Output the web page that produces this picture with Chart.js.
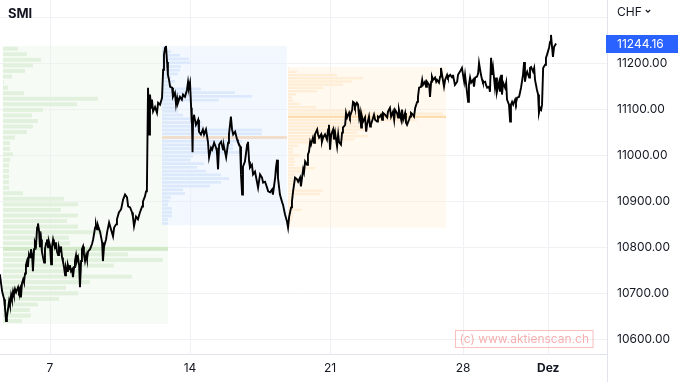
<!DOCTYPE html>
<html>
<head>
<meta charset="utf-8">
<script src="https://cdn.jsdelivr.net/npm/chart.js@4.4.0/dist/chart.umd.min.js"></script>
<style>
html,body{margin:0;padding:0;background:#fff;}
#wrap{width:678px;height:382px;}
</style>
</head>
<body>
<div id="wrap"><canvas id="c" width="678" height="382"></canvas></div>
<script>
// ---- DATA ----
// x: trading days since the start of the 7 Nov session; y: SMI level (CHF)
const pricePoints = [
[-1.79,10741],[-1.71,10704],[-1.64,10687],[-1.61,10670],[-1.57,10639],[-1.54,10648],[-1.50,10665],[-1.46,10683],[-1.43,10674],[-1.39,10696],
[-1.36,10687],[-1.32,10704],[-1.29,10696],[-1.25,10709],[-1.21,10702],[-1.14,10713],[-1.11,10704],[-1.07,10711],[-1.04,10691],[-1.00,10722],
[-0.96,10730],[-0.93,10724],[-0.89,10743],[-0.86,10761],[-0.82,10770],[-0.79,10757],[-0.75,10785],[-0.71,10778],[-0.68,10796],[-0.64,10783],
[-0.61,10748],[-0.57,10796],[-0.54,10811],[-0.50,10804],[-0.46,10843],[-0.43,10852],[-0.39,10835],[-0.36,10800],[-0.32,10817],[-0.29,10791],
[-0.25,10778],[-0.21,10767],[-0.18,10796],[-0.14,10809],[-0.11,10817],[-0.07,10800],[-0.04,10813],[0.00,10804],[0.04,10763],[0.07,10800],
[0.11,10817],[0.14,10809],[0.18,10798],[0.21,10811],[0.25,10791],[0.29,10783],[0.32,10800],[0.36,10791],[0.39,10802],[0.43,10778],
[0.46,10770],[0.50,10757],[0.54,10739],[0.57,10757],[0.61,10748],[0.64,10761],[0.68,10752],[0.71,10761],[0.75,10748],[0.79,10752],
[0.82,10735],[0.86,10757],[0.89,10770],[0.93,10783],[0.96,10770],[1.00,10778],[1.04,10761],[1.07,10713],[1.11,10770],[1.14,10796],
[1.18,10802],[1.21,10785],[1.25,10770],[1.29,10783],[1.32,10774],[1.36,10791],[1.43,10796],[1.50,10807],[1.54,10817],[1.61,10843],
[1.64,10850],[1.68,10839],[1.71,10848],[1.79,10833],[1.86,10811],[1.89,10770],[1.93,10802],[2.00,10817],[2.04,10833],[2.11,10854],
[2.18,10839],[2.25,10824],[2.29,10843],[2.36,10850],[2.39,10861],[2.46,10876],[2.54,10883],[2.61,10904],[2.68,10915],[2.75,10909],
[2.79,10889],[2.86,10887],[2.93,10876],[2.96,10867],[3.00,10846],[3.07,10867],[3.14,10861],[3.21,10876],[3.29,10889],[3.32,10900],
[3.39,10911],[3.43,10922],[3.46,10926],[3.50,11148],[3.54,11046],[3.57,11133],[3.61,11104],[3.64,11122],[3.68,11096],[3.75,11106],
[3.82,11093],[3.86,11115],[3.93,11111],[4.00,11126],[4.04,11187],[4.07,11220],[4.11,11235],[4.14,11239],[4.18,11204],[4.21,11176],
[4.25,11165],[4.29,11150],[4.36,11148],[4.39,11128],[4.46,11137],[4.50,11111],[4.54,11126],[4.57,11115],[4.64,11128],[4.71,11122],
[4.75,11133],[4.82,11128],[4.89,11143],[4.93,11161],[4.96,11148],[5.00,11159],[5.04,11104],[5.05,11072],[5.07,11100],[5.09,11007],
[5.11,11083],[5.14,11089],[5.21,11067],[5.29,11078],[5.32,11052],[5.39,11046],[5.46,11057],[5.50,11046],[5.57,11057],[5.64,11030],
[5.68,10996],[5.75,11017],[5.79,11013],[5.86,11028],[5.93,11017],[5.96,11009],[6.00,10970],[6.04,11024],[6.11,11030],[6.18,11013],
[6.21,11020],[6.29,10996],[6.36,11028],[6.39,11046],[6.46,11085],[6.50,11057],[6.54,11046],[6.61,11052],[6.68,11035],[6.71,11030],
[6.79,11020],[6.82,10959],[6.86,10915],[6.89,10976],[6.96,10987],[7.04,11024],[7.07,11030],[7.11,10987],[7.14,10974],[7.21,10980],
[7.25,10959],[7.32,10965],[7.39,10943],[7.43,10930],[7.50,10959],[7.57,10952],[7.61,10941],[7.68,10943],[7.75,10930],[7.79,10922],
[7.86,10920],[7.93,10926],[7.96,10915],[8.04,10952],[8.07,10974],[8.11,10991],[8.14,10952],[8.21,10915],[8.29,10898],[8.32,10893],
[8.39,10872],[8.46,10857],[8.50,10843],[8.54,10867],[8.61,10887],[8.64,10900],[8.68,10922],[8.75,10952],[8.82,10948],[8.86,10943],
[8.93,10952],[8.96,10933],[9.00,10952],[9.04,10970],[9.07,10963],[9.11,10987],[9.18,10980],[9.21,11002],[9.25,11009],[9.29,11030],
[9.32,11024],[9.39,11039],[9.43,11028],[9.46,11046],[9.54,11057],[9.57,11046],[9.61,11039],[9.68,11046],[9.71,11030],[9.75,11039],
[9.82,11046],[9.89,11035],[9.93,11057],[9.96,11067],[10.00,11013],[10.04,11046],[10.11,11057],[10.14,11035],[10.18,11050],[10.25,11020],
[10.29,11046],[10.32,11030],[10.39,11024],[10.43,11050],[10.46,11061],[10.54,11067],[10.57,11093],[10.61,11083],[10.68,11093],[10.71,11085],
[10.79,11100],[10.82,11117],[10.86,11115],[10.89,11106],[10.96,11115],[11.00,11111],[11.04,11083],[11.07,11093],[11.11,11061],[11.14,11085],
[11.18,11074],[11.25,11083],[11.29,11052],[11.32,11067],[11.39,11085],[11.43,11063],[11.46,11067],[11.54,11083],[11.57,11089],[11.61,11078],
[11.68,11074],[11.71,11085],[11.75,11083],[11.82,11089],[11.86,11078],[11.89,11093],[11.96,11089],[12.04,11083],[12.07,11096],[12.14,11104],
[12.18,11085],[12.25,11096],[12.29,11078],[12.32,11100],[12.39,11093],[12.43,11083],[12.46,11100],[12.54,11078],[12.57,11100],[12.61,11078],
[12.68,11093],[12.71,11072],[12.75,11067],[12.82,11078],[12.86,11085],[12.89,11093],[12.96,11089],[13.00,11085],[13.04,11104],[13.11,11117],
[13.14,11128],[13.18,11148],[13.25,11150],[13.29,11165],[13.32,11154],[13.39,11161],[13.43,11150],[13.46,11161],[13.54,11154],[13.57,11128],
[13.61,11161],[13.64,11172],[13.68,11165],[13.75,11170],[13.79,11161],[13.82,11165],[13.89,11159],[13.93,11172],[13.96,11191],[14.04,11161],
[14.07,11150],[14.11,11165],[14.18,11176],[14.21,11170],[14.29,11176],[14.36,11170],[14.39,11176],[14.46,11154],[14.54,11161],[14.57,11176],
[14.64,11183],[14.71,11191],[14.75,11176],[14.79,11161],[14.82,11176],[14.89,11139],[14.93,11117],[14.96,11154],[15.00,11170],[15.04,11159],
[15.11,11165],[15.14,11150],[15.18,11170],[15.25,11172],[15.29,11180],[15.32,11202],[15.39,11176],[15.43,11165],[15.46,11159],[15.54,11161],
[15.57,11154],[15.61,11148],[15.68,11150],[15.71,11139],[15.75,11213],[15.79,11176],[15.82,11191],[15.89,11148],[15.93,11170],[15.96,11139],
[16.04,11161],[16.07,11139],[16.11,11176],[16.14,11133],[16.18,11159],[16.25,11148],[16.29,11159],[16.32,11122],[16.39,11111],[16.43,11074],
[16.46,11111],[16.50,11117],[16.54,11111],[16.61,11122],[16.64,11115],[16.68,11126],[16.75,11128],[16.79,11139],[16.82,11148],[16.89,11176],
[16.93,11204],[16.96,11161],[17.00,11176],[17.04,11183],[17.11,11170],[17.14,11191],[17.18,11193],[17.25,11183],[17.29,11191],[17.32,11165],
[17.39,11143],[17.43,11133],[17.46,11093],[17.50,11104],[17.54,11100],[17.57,11111],[17.61,11191],[17.68,11198],[17.71,11213],[17.75,11220],
[17.82,11235],[17.86,11248],[17.89,11263],[17.93,11235],[17.96,11215],[18.00,11237],[18.04,11241],[18.07,11244.16]
];
const lastPrice = 11244.16;

// x-axis ticks (trading-day position) and their labels
const xTickDays = [0, 5, 10, 14.75, 17.79];
const xTickLabels = ['7', '14', '21', '28', 'Dez'];
// y-axis ticks
const yTickValues = [10600, 10700, 10800, 10900, 11000, 11100, 11200, 11300];
const yTickLabels = ['10600.00','10700.00','10800.00','10900.00','11000.00','11100.00','11200.00',''];

// volume profiles: time span (trading days), price span, volume per price row (top to bottom)
const profileStart = [-1.68, 4.00, 8.50];
const profileEnd   = [ 4.21, 8.46, 14.14];
const profileHigh  = [11239, 11239, 11193];
const profileLow   = [10633, 10848, 10843];
const greenVolumes = [15,24,38,30,22,9,1,5,21,95,74,40,29,35,30,24,12,7,7,10,7,6,6,6,6,6,20,61,75,58,75,64,75,100,66,67,165,125,160,111,80,129,87,63,75,56,35,27,28,19];
const blueVolumes  = [4,9,18,27,29,19,18,16,9,13,10,39,73,90,57,12,14,16,21,28,40,41,100,100,125,80,71,71,78,31,28,42,35,44,59,67,59,48,21,23,9,7,6,10,10,10,6,6];
const orangeVolumes= [1,9,49,75,64,55,35,29,8,4,5,12,28,77,155,158,129,69,75,80,69,80,66,29,10,5,5,12,6,7,6,27,17,7,5,10,5,2,35,32,6,5,5,6,14,5,5,4,2,2];

// ---- STYLE ----
const profileStyles = [
  {bg:'rgba(232,244,228,0.35)', bar:'#e2f1dd', poc:'#d2e9c9'},
  {bg:'rgba(226,238,255,0.4)',  bar:'#dce9fc', poc:'#f2dcc8'},
  {bg:'rgba(255,239,218,0.4)',  bar:'#ffedd6', poc:'#fddcb0'}
];
const profiles = [greenVolumes, blueVolumes, orangeVolumes].map((vols, i) => ({
  vols, start: profileStart[i], end: profileEnd[i], high: profileHigh[i], low: profileLow[i], style: profileStyles[i]
}));

const FONT = 'Inter, "Noto Sans", sans-serif';
Chart.defaults.font.family = FONT;
Chart.defaults.font.size = 12;
Chart.defaults.color = '#131722';

const profilePlugin = {
  id: 'profiles',
  beforeDatasetsDraw(chart) {
    const {ctx, chartArea: a, scales: {x, y}} = chart;
    ctx.save();
    ctx.beginPath(); ctx.rect(a.left, a.top, a.right - a.left, a.bottom - a.top); ctx.clip();
    profiles.forEach(p => {
      const x0 = x.getPixelForValue(p.start), x1 = x.getPixelForValue(p.end);
      const yT = y.getPixelForValue(p.high), yB = y.getPixelForValue(p.low);
      ctx.fillStyle = p.style.bg;
      ctx.fillRect(x0, yT, x1 - x0, yB - yT);
      const n = p.vols.length, max = Math.max(...p.vols), poc = p.vols.indexOf(max);
      const step = (p.high - p.low) / n;
      p.vols.forEach((v, i) => {
        const hi = p.high - i * step, lo = hi - step;
        const ya = y.getPixelForValue(hi), yb = y.getPixelForValue(lo);
        const h = (yb - ya) * 0.72, yc = (ya + yb) / 2;
        const w = v / max * (x1 - x0);
        ctx.fillStyle = i === poc ? p.style.poc : p.style.bar;
        ctx.fillRect(x0, yc - h / 2, w, h);
      });
    });
    ctx.restore();
  },
  afterDraw(chart) {
    const {ctx, chartArea: a, scales: {y}} = chart;
    ctx.save();
    // separator of the price axis
    ctx.strokeStyle = '#e0e3eb'; ctx.lineWidth = 1;
    ctx.beginPath(); ctx.moveTo(a.right + 0.5, 0); ctx.lineTo(a.right + 0.5, chart.height); ctx.stroke();
    // title
    ctx.fillStyle = '#131722';
    ctx.font = 'bold 13px ' + FONT;
    ctx.textBaseline = 'middle'; ctx.textAlign = 'left';
    ctx.fillText('SMI', 8, 14);
    // currency
    ctx.font = '12px ' + FONT;
    ctx.fillText('CHF', a.right + 10, 12);
    const cw = ctx.measureText('CHF').width;
    const cx = a.right + 10 + cw + 4;
    ctx.strokeStyle = '#131722'; ctx.lineWidth = 1.1;
    ctx.beginPath(); ctx.moveTo(cx, 10); ctx.lineTo(cx + 2.2, 12.2); ctx.lineTo(cx + 4.4, 10); ctx.stroke();
    // last price label
    const yp = y.getPixelForValue(lastPrice);
    ctx.fillStyle = '#2962ff';
    ctx.fillRect(a.right - 1, Math.round(yp) - 9, chart.width - a.right + 1, 18);
    ctx.fillStyle = '#ffffff';
    ctx.fillText(lastPrice.toFixed(2), a.right + 10, Math.round(yp) + 0.5);
    // watermark
    ctx.font = '12px ' + FONT;
    const wm = '(c) www.aktienscan.ch';
    const tw = ctx.measureText(wm).width;
    const bx = 455.5, by = 330.5;
    ctx.strokeStyle = 'rgba(240,120,120,0.45)';
    ctx.strokeRect(bx, by, tw + 8, 17);
    ctx.fillStyle = 'rgba(240,110,110,0.55)';
    ctx.fillText(wm, bx + 4, by + 9);
    ctx.restore();
  }
};

new Chart(document.getElementById('c'), {
  type: 'line',
  data: {
    datasets: [{
      data: pricePoints.map(p => ({x: p[0], y: p[1]})),
      borderColor: '#000000',
      borderWidth: 1.9,
      pointRadius: 0,
      tension: 0,
      fill: false
    }]
  },
  options: {
    responsive: false,
    animation: false,
    devicePixelRatio: 1,
    layout: {padding: 0},
    plugins: {legend: {display: false}, tooltip: {enabled: false}},
    scales: {
      x: {
        type: 'linear',
        min: -1.786, max: 19.89,
        afterBuildTicks: s => { s.ticks = xTickDays.map(v => ({value: v})); },
        afterFit: s => { s.height = 28; s.paddingLeft = 0; s.paddingRight = 0; },
        grid: {color: '#f0f1f4', drawTicks: false},
        border: {color: '#e0e3eb'},
        ticks: {
          autoSkip: false, maxRotation: 0, padding: 7, color: '#131722',
          callback: (v) => { const i = xTickDays.indexOf(v); return i >= 0 ? xTickLabels[i] : ''; },
          font: (ctx) => ({family: FONT, size: 12, weight: (ctx.tick && ctx.tick.value === 17.79) ? 'bold' : 'normal'})
        }
      },
      y: {
        type: 'linear',
        position: 'right',
        min: 10567.4, max: 11339.1,
        afterBuildTicks: s => { s.ticks = yTickValues.map(v => ({value: v})); },
        afterFit: s => { s.width = 71; s.paddingTop = 0; s.paddingBottom = 0; },
        grid: {color: '#f0f1f4', drawTicks: false},
        border: {display: false},
        ticks: {
          padding: 10, color: '#131722',
          callback: (v) => { const i = yTickValues.indexOf(v); return i >= 0 ? yTickLabels[i] : ''; }
        }
      }
    }
  },
  plugins: [profilePlugin]
});
</script>
</body>
</html>
